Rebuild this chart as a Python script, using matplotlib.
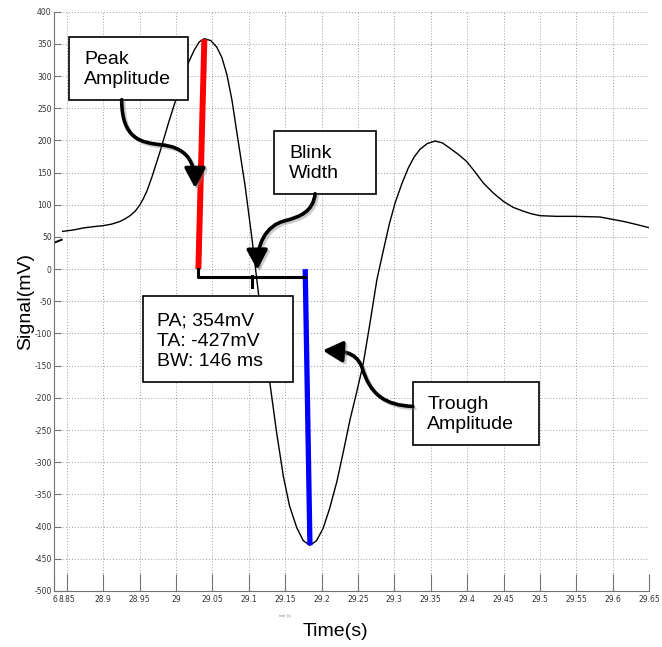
import matplotlib
matplotlib.use("Agg")
import matplotlib.pyplot as plt
from matplotlib.patches import Rectangle, FancyArrowPatch
from matplotlib.path import Path
import matplotlib.patheffects as pe

# signal (time in s, signal in mV)
time_s = [28.8445, 28.860, 28.873, 28.887, 28.900, 28.912, 28.923, 28.930, 28.937,
          28.944, 28.950, 28.955, 28.960, 28.967, 28.978, 28.990, 28.999, 29.008,
          29.016, 29.025, 29.032, 29.039, 29.048, 29.056, 29.063, 29.070, 29.077,
          29.083, 29.089, 29.095, 29.104, 29.111, 29.120, 29.129, 29.138, 29.1475,
          29.156, 29.166, 29.175, 29.184, 29.193, 29.202, 29.211, 29.221, 29.230,
          29.239, 29.248, 29.257, 29.266, 29.276, 29.285, 29.293, 29.301, 29.310,
          29.319, 29.327, 29.335, 29.345, 29.356, 29.366, 29.376, 29.388, 29.399,
          29.410, 29.422, 29.436, 29.450, 29.463, 29.477, 29.488, 29.500, 29.523,
          29.546, 29.565, 29.582, 29.601, 29.615, 29.630, 29.651]
signal_mv = [58.6, 61, 64, 66, 67.5, 70, 74, 78, 83,
             90, 99, 109, 121, 143, 182, 228, 260, 291,
             318, 340, 353, 358, 355, 345, 329, 302, 262,
             217, 173, 129, 51, -16, -100, -177, -252, -322,
             -368, -402, -422, -429, -422, -403, -372, -330, -283,
             -234, -192, -148, -87, -16, 30, 70, 103, 132,
             157, 174, 186, 195, 199, 196, 188, 178, 167.5,
             152, 134, 118, 105, 96, 90, 86, 83, 82,
             82, 81.5, 81, 77, 74, 70, 64]
# stray segment at the left edge
stub_t = [28.8339, 28.8431]
stub_mv = [41.5, 45.7]

peak_t = [29.0308, 29.0390]
peak_mv = [0, 357]
trough_t = [29.1775, 29.1840]
trough_mv = [0, -429]
bw_level = -12
bw_mark_t = 29.104

xmin, xmax = 28.8332, 29.65
xtick_pos = [xmin, 28.85, 28.9, 28.95, 29.0, 29.05, 29.1, 29.15, 29.2, 29.25,
             29.3, 29.35, 29.4, 29.45, 29.5, 29.55, 29.6, 29.65]
xtick_lab = ['6', '8.85', '28.9', '28.95', '29', '29.05', '29.1', '29.15', '29.2',
             '29.25', '29.3', '29.35', '29.4', '29.45', '29.5', '29.55', '29.6', '29.65']
ytick_pos = list(range(-500, 401, 50))

tick_font = ['Liberation Sans Narrow', 'DejaVu Sans']
txt_font = ['Liberation Sans', 'DejaVu Sans']

fig = plt.figure(figsize=(6.62, 6.47), dpi=100)
ax = fig.add_axes([0.0823, 0.0866, 0.8985, 0.8954])

ax.plot(time_s, signal_mv, color='black', lw=1.0, zorder=2)
ax.plot(stub_t, stub_mv, color='black', lw=1.4, zorder=2)

ax.plot(peak_t, peak_mv, color='#ff0000', lw=4.3, solid_capstyle='butt', zorder=3)
ax.plot(trough_t, trough_mv, color='#0000ff', lw=3.8, solid_capstyle='butt', zorder=3)
ax.plot([peak_t[0], peak_t[0], trough_t[0]], [peak_mv[0], bw_level, bw_level],
        color='black', lw=2.2, solid_joinstyle='round', zorder=3)
ax.plot([bw_mark_t, bw_mark_t], [bw_level + 1, bw_level - 15], color='black', lw=2.2, zorder=3)

ax.set_xlim(xmin, xmax)
ax.set_ylim(-500, 400)
ax.set_xticks(xtick_pos)
ax.set_xticklabels(xtick_lab, family=tick_font, fontsize=5.5, color='0.2')
ax.set_yticks(ytick_pos)
ax.set_yticklabels([str(v) for v in ytick_pos], family=tick_font, fontsize=5.5, color='0.2')
ax.tick_params(axis='x', direction='in', length=12, width=0.8, color='0.45', pad=3)
ax.tick_params(axis='y', direction='in', length=5, width=0.8, color='0.45', pad=2)
ax.grid(True, color='0.62', linestyle=(0, (1, 2)), lw=0.7)
for s in ['top', 'right']:
    ax.spines[s].set_visible(False)
for s in ['left', 'bottom']:
    ax.spines[s].set_color('0.45')
    ax.spines[s].set_linewidth(0.8)


def box(x0, x1, y0, y1, tx, ty, label):
    ax.add_patch(Rectangle((x0, y0), x1 - x0, y1 - y0, fc='white', ec='black',
                           lw=1.2, zorder=5))
    ax.text(tx, ty, label, family=txt_font, fontsize=14, ha='left', va='center',
            linespacing=1.25, zorder=6)


box(28.8536, 29.0162, 263.2, 360.6, 28.8738, 309.8, 'Peak\nAmplitude')
box(29.1352, 29.2749, 117.1, 213.9, 29.1558, 163.9, 'Blink\nWidth')
box(28.9544, 29.1613, -176.0, -42.4, 28.9745, -112.3, 'PA; 354mV\nTA: -427mV\nBW: 146 ms')
box(29.3253, 29.4992, -272.8, -176.0, 29.3453, -226.2, 'Trough\nAmplitude')


def curved_arrow(pts):
    codes = [Path.MOVETO] + [Path.CURVE4] * (len(pts) - 1)
    arr = FancyArrowPatch(path=Path(pts, codes),
                          arrowstyle='-|>,head_length=0.6,head_width=0.32',
                          mutation_scale=20, color='black', lw=2.6,
                          zorder=7, shrinkA=0, shrinkB=0)
    arr.set_path_effects([pe.SimpleLineShadow(offset=(1.5, -1.5), shadow_color='0.5',
                                              alpha=0.4), pe.Normal()])
    ax.add_patch(arr)


# peak amplitude arrow
curved_arrow([(28.9255, 263.2), (28.9255, 201), (28.953, 197), (28.9782, 193.3),
              (29.0125, 190), (29.0262, 170), (29.0262, 126)])
# blink width arrow
curved_arrow([(29.1911, 117.1), (29.1884, 89.2), (29.1705, 81.4), (29.1499, 75.2),
              (29.1224, 67.4), (29.1114, 37.9), (29.1118, -1)])
# trough amplitude arrow
curved_arrow([(29.3253, -213.3), (29.2872, -211.5), (29.2666, -195), (29.2556, -153),
              (29.2460, -125), (29.2254, -128), (29.2016, -126.3)])

fig.text(26 / 662, 1 - 301.7 / 647, 'Signal(mV)', rotation=90, family=txt_font,
         fontsize=14, ha='center', va='center')
fig.text(335.7 / 662, 1 - 631.7 / 647, 'Time(s)', family=txt_font, fontsize=14,
         ha='center', va='center')
fig.text(285 / 662, 1 - 615.7 / 647, 'time (s)', family=txt_font, fontsize=2.5,
         color='0.5', ha='center', va='center')

fig.savefig('out.png', dpi=100)
